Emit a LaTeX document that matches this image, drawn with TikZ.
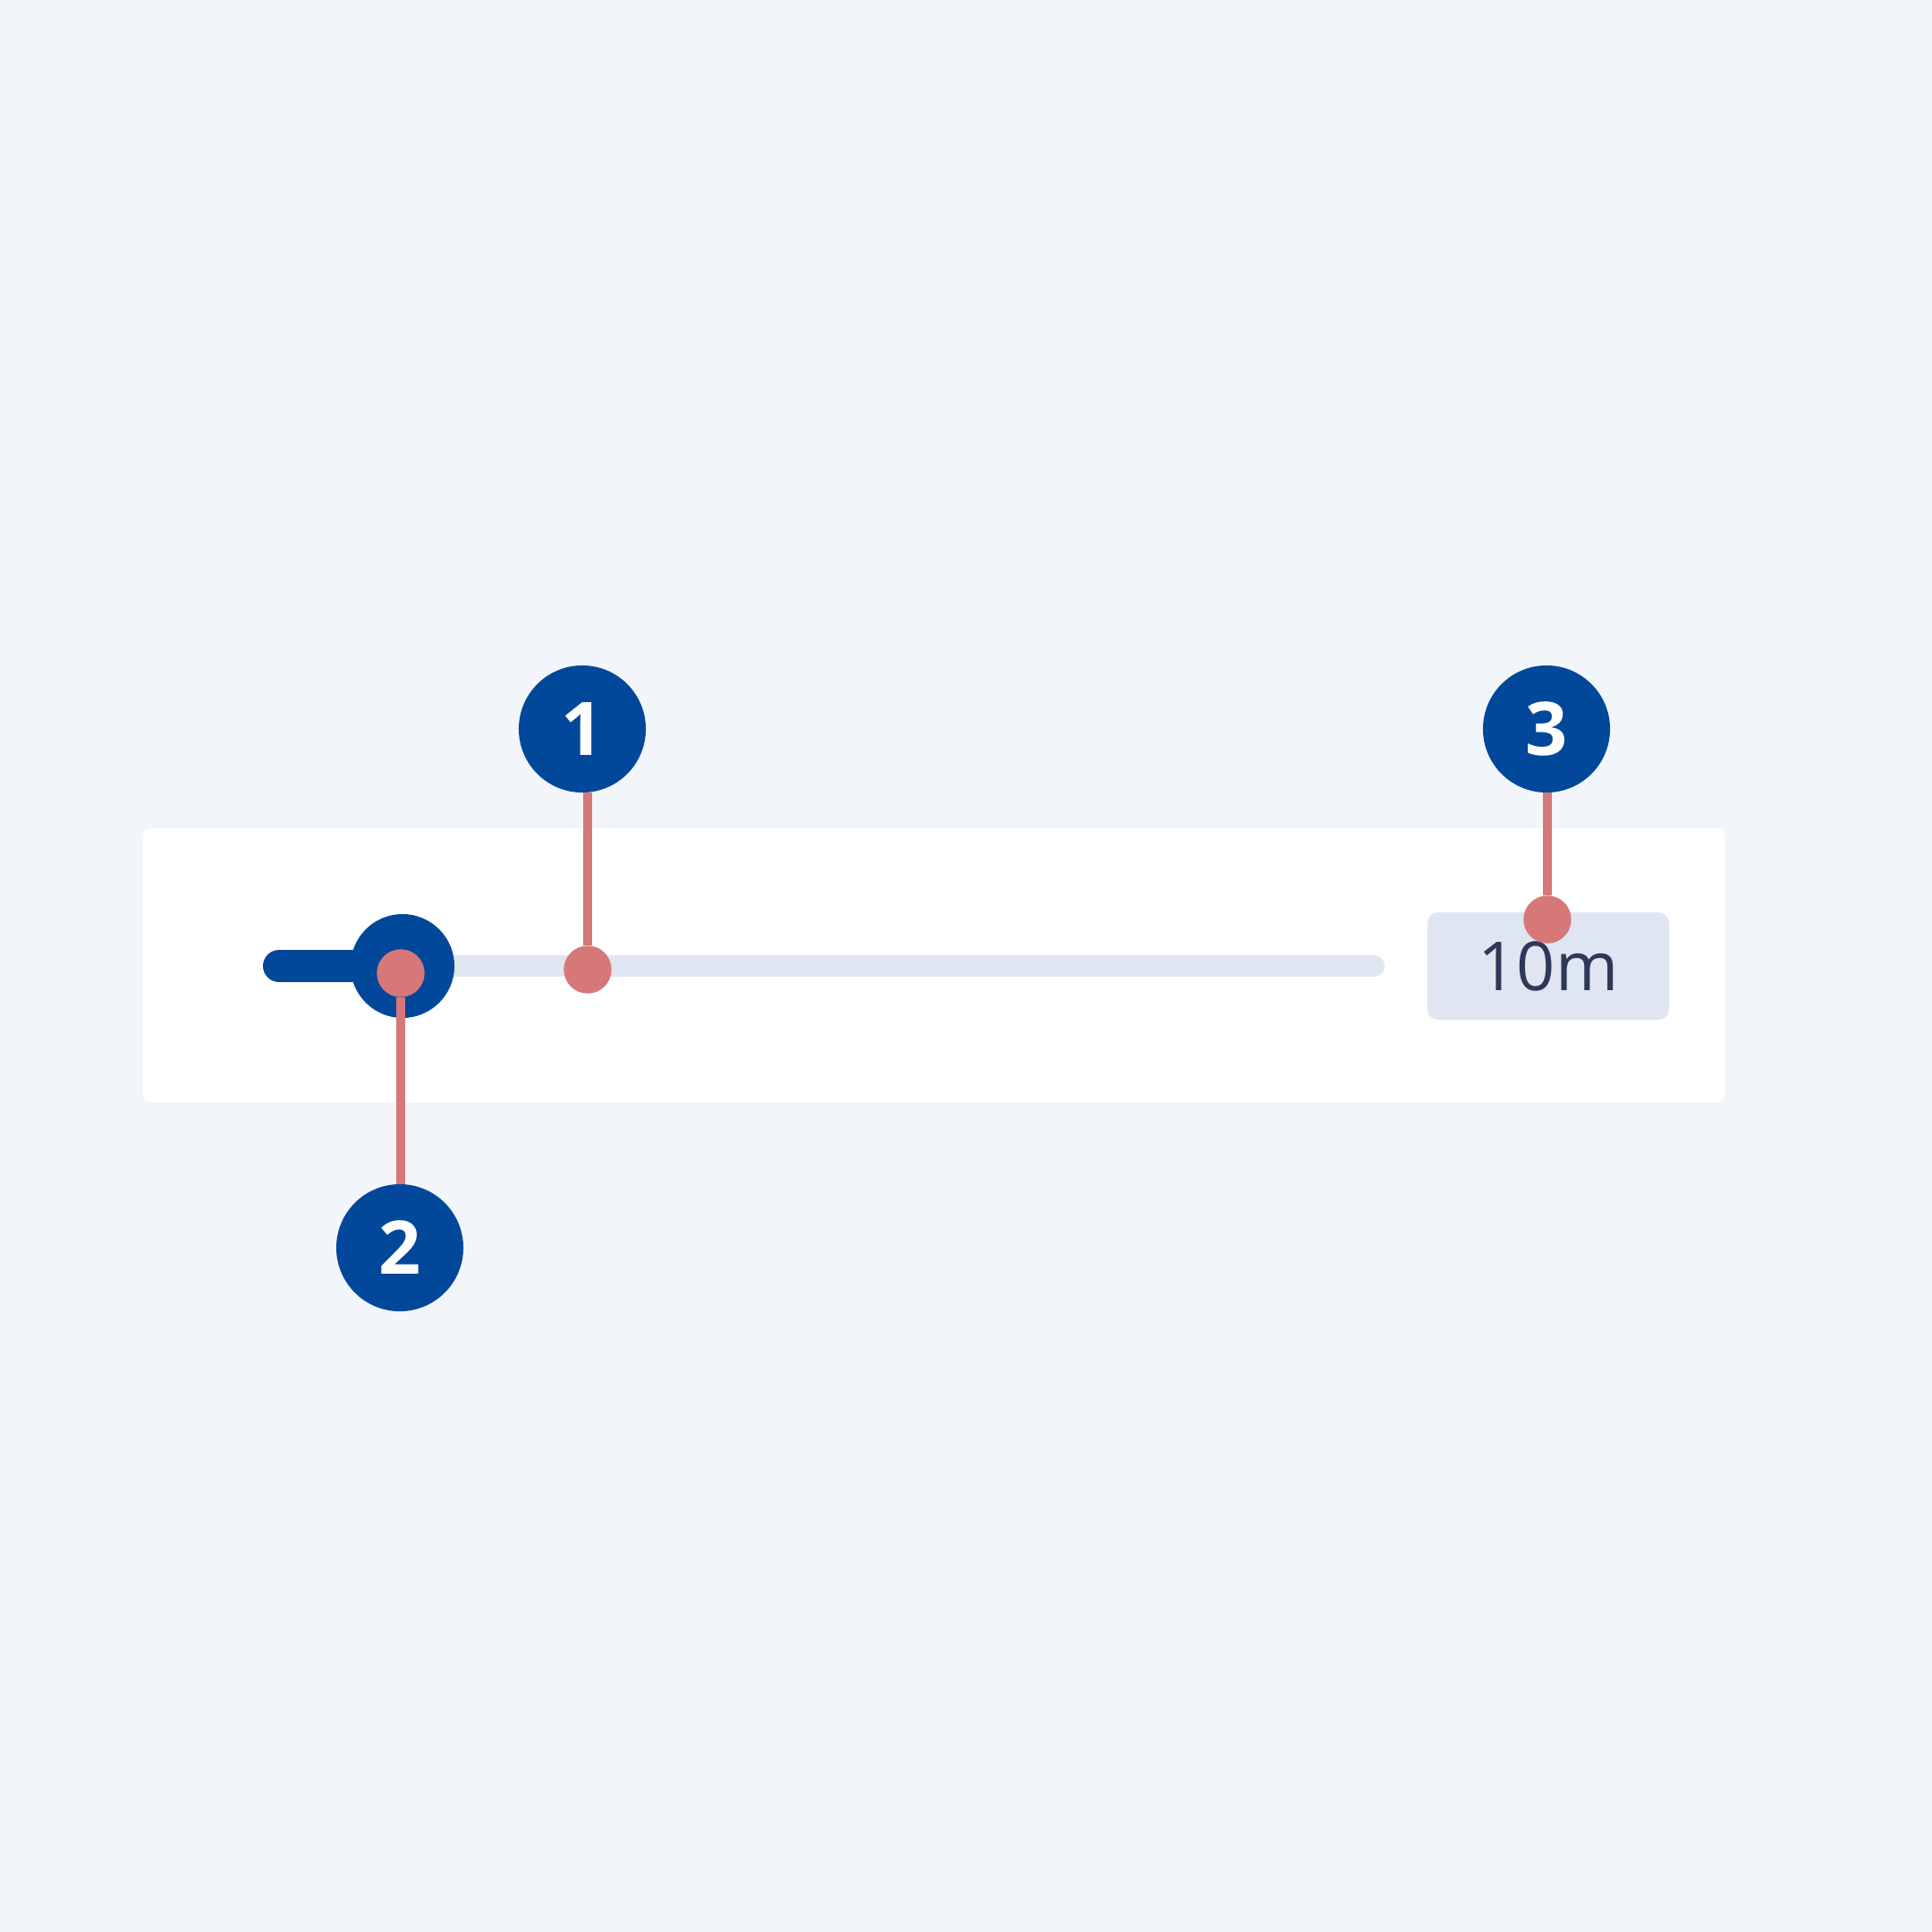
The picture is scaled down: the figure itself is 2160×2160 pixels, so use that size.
\documentclass[tikz,border=0pt]{standalone}
\usepackage{fontspec}
\setmainfont{Open Sans}
\usetikzlibrary{positioning, calc}
\definecolor{pagebg}{HTML}{F2F6FB}
\definecolor{navy}{HTML}{02489A}
\definecolor{pinred}{HTML}{D67878}
\definecolor{railgrey}{HTML}{DFE6F1}
\definecolor{ink}{HTML}{2E3859}
\tikzset{%
   badge/.style={
      circle,
      inner sep=0mm,
      outer sep=0mm,
      minimum size=1.42cm,
      fill=navy,
      text=white,
      font=\fontsize{23.5}{24}\selectfont\bfseries
   },
   pin/.style={
      circle,
      inner sep=0mm,
      outer sep=0mm,
      minimum size=0.534cm,
      fill=pinred
   },
   knob/.style={
      circle,
      inner sep=0mm,
      outer sep=0mm,
      minimum size=1.16cm,
      fill=navy
   },
   valbox/.style={
      rectangle,
      rounded corners=0.12cm,
      inner sep=0mm,
      minimum width=2.70cm,
      minimum height=1.20cm,
      fill=railgrey,
      text=ink,
      font=\fontsize{21.5}{22}\selectfont
   },
   lead/.style={
      draw=pinred,
      line width=0.1cm
   },
   rail/.style={
      draw=railgrey,
      line width=0.24cm,
      line cap=round
   },
   filled/.style={
      draw=navy,
      line width=0.36cm,
      line cap=round
   },
}

\begin{document}
\begin{tikzpicture}[x=0.01cm, y=-0.01cm]
      \fill[pagebg] (0,0) rectangle (2160,2160);
      \fill[white, rounded corners=0.08cm] (160,926) rectangle (1928,1232);
      \coordinate (r0) at (470,1080);
      \coordinate (r1) at (1536,1080);
      \coordinate (f0) at (312,1080);
      \path[rail] (r0) -- (r1);
      \node[knob] (knob) at (450,1080) {};
      \path[filled] (f0) -- (knob.center);
      \node[valbox] (val) at (1731,1080) {10m};
      \node[pin] (p1) at (657,1084) {};
      \node[pin] (p2) at (448,1088) {};
      \node[pin] (p3) at (1730,1028) {};
      \node[badge] (b1) at (651,815) {1};
      \node[badge] (b2) at (447,1395) {2};
      \node[badge] (b3) at (1729,815) {3};
      \path[lead] (b1.south -| p1) -- (p1);
      \path[lead] (p2) -- (p2 |- b2.north);
      \path[lead] (b3.south -| p3) -- (p3);
   \end{tikzpicture}
\end{document}
